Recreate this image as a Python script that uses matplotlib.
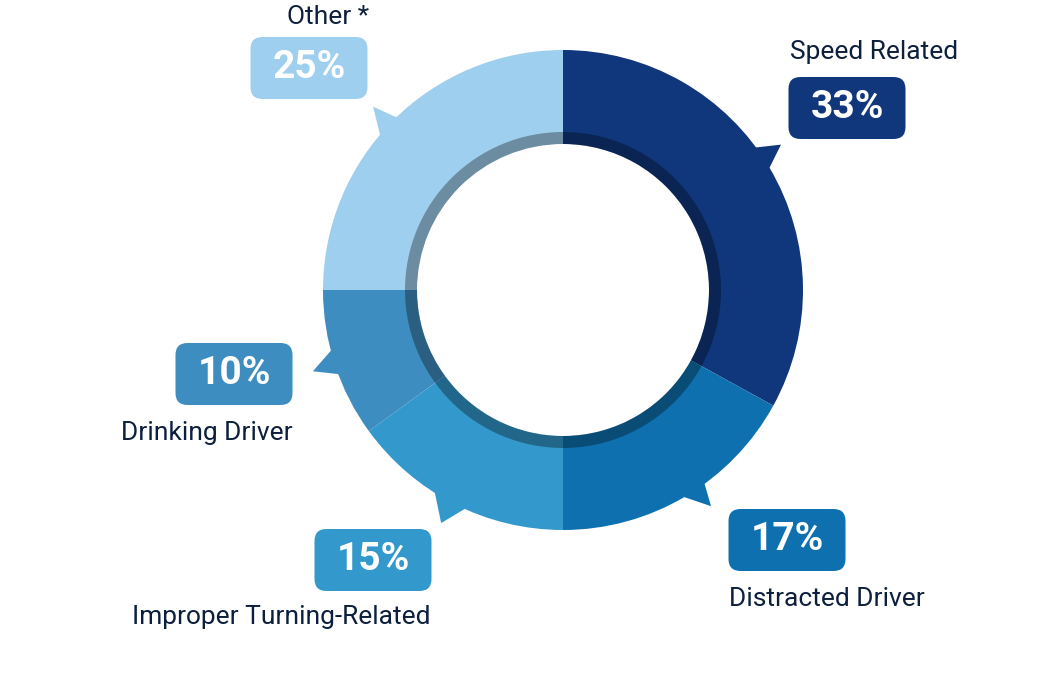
import numpy as np
import matplotlib
matplotlib.use('Agg')
import matplotlib.pyplot as plt
from matplotlib.patches import Polygon, Wedge, FancyBboxPatch

plt.rcParams['font.family'] = ['Roboto', 'DejaVu Sans']

# data
categories = ['Speed Related', 'Distracted Driver', 'Improper Turning-Related',
              'Drinking Driver', 'Other *']
shares = [33, 17, 15, 10, 25]
colors = ['#10367b', '#0e70ae', '#3399cc', '#3e8dc0', '#9ecfee']
text_dark = '#0c1f3d'

W, H = 1063, 699
cx, cy = 563, H - 290
R, r_in, band = 240, 146, 12

fig = plt.figure(figsize=(W / 100, H / 100), dpi=100)
ax = fig.add_axes([0, 0, 1, 1])

wedges, _ = ax.pie(shares, colors=colors, startangle=90, counterclock=False,
                   radius=R, center=(cx, cy), frame=True,
                   wedgeprops=dict(width=R - r_in, linewidth=0, antialiased=True))

# darker inner band
ax.add_patch(Wedge((cx, cy), r_in + band, 0, 360, width=band,
                   facecolor='black', alpha=0.32, linewidth=0))

# little pointers sticking out of each slice: (base a1, base a2, tip angle, tip radius)
pointers = [(30, 37, 33.7, 262), (-60.5, -53.5, -55.6, 262), (236.8, 246.5, 242.4, 263),
            (194, 201, 198, 263), (133.6, 140.4, 136, 264)]
for (a1, a2, at, rt), c in zip(pointers, colors):
    pts = []
    for a, rr in [(a1, R - 4), (at, rt), (a2, R - 4)]:
        t = np.radians(a)
        pts.append((cx + rr * np.cos(t), cy + rr * np.sin(t)))
    ax.add_patch(Polygon(pts, closed=True, facecolor=c, edgecolor='none'))

# label layout in pixel coords (top-left origin)
box_centers = [(847, 108), (787, 540), (373, 560), (234, 374), (309, 68)]
name_pos = [(874, 52, 'center'), (729, 599, 'left'), (431, 617, 'right'),
            (293, 433, 'right'), (328, 17, 'center')]
bw, bh = 117, 62

for cat, val, c, (bx, by), (nx, ny, ha) in zip(categories, shares, colors,
                                                box_centers, name_pos):
    ax.add_patch(FancyBboxPatch((bx - bw / 2 + 12, H - by - bh / 2 + 12), bw - 24, bh - 24,
                                boxstyle='round,pad=12', facecolor=c, edgecolor='none'))
    ax.text(bx, H - by + 1, f'{val}%', color='white', fontsize=28, fontweight='bold',
            ha='center', va='center')
    ax.text(nx, H - ny, cat, color=text_dark, fontsize=19, ha=ha, va='center')

ax.set_xlim(0, W)
ax.set_ylim(0, H)
ax.set_aspect('equal')
ax.axis('off')

fig.savefig('out.png', dpi=100, facecolor='white')
